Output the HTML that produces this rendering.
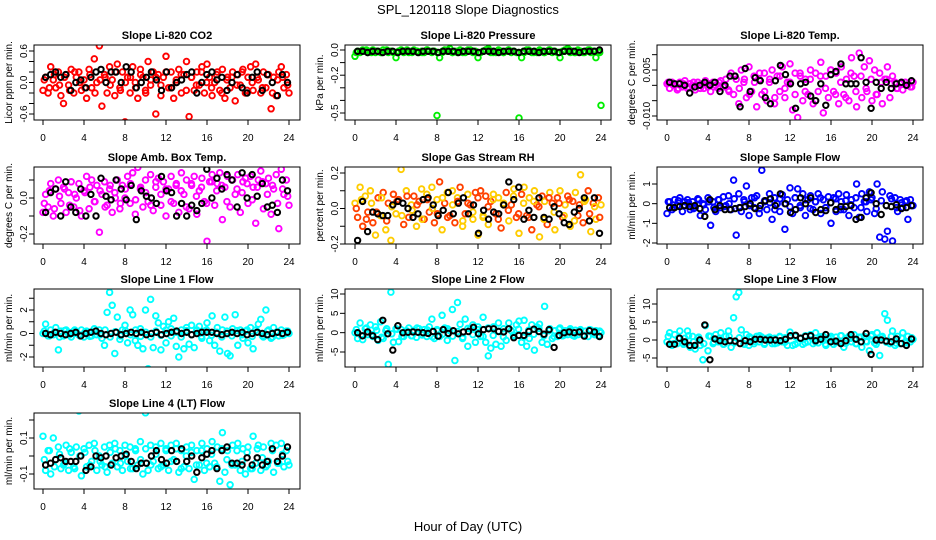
<!DOCTYPE html>
<html>
<head>
<meta charset="utf-8">
<style>
html,body{margin:0;padding:0;background:#fff;}
svg{display:block;font-family:"Liberation Sans",Arial,sans-serif;}
</style>
</head>
<body>
<svg id="chart" width="936" height="540" viewBox="0 0 936 540" xmlns="http://www.w3.org/2000/svg">
  <rect x="0" y="0" width="936" height="540" fill="#fff"/>
  <text x="468" y="14" font-size="13" text-anchor="middle">SPL_120118  Slope Diagnostics</text>
  <text x="468" y="531" font-size="13" text-anchor="middle">Hour of Day (UTC)</text>
</svg>
<script>
// ---- data (colored = samples every 0.25 h, second colored set every 0.5 h, black = every 0.5 h) ----
const xTickLabels = [0,4,8,12,16,20,24];

const co2Vals = [-0.15,0.1,-0.2,0.3,0.05,-0.1,0.2,-0.25, -0.4,0.15,-0.05,0.25,-0.2,0.1,0.2,-0.15, 0.05,-0.3,0.25,-0.1,0.45,0.0,0.7,-0.45, 0.15,-0.2,0.3,0.05,-0.25,0.35,-0.1,0.2, -0.75,0.1,-0.2,0.3,0.0,-0.3,0.25,0.1, -0.15,0.4,-0.05,0.2,-0.6,0.15,-0.25,0.1, 0.5,-0.1,0.2,-0.3,0.05,0.25,-0.2,0.15, 0.4,-0.65,0.1,-0.15,0.2,-0.05,0.3,-0.2, 0.35,0.1,-0.25,0.0,0.2,-0.15,0.25,-0.3, 0.1,-0.1,0.2,-0.35,0.15,-0.05,0.25,-0.2, 0.1,0.3,-0.15,0.35,0.05,-0.2,0.2,-0.1, 0.15,-0.5,0.1,-0.25,0.2,0.3,-0.1,0.15, -0.2];
const co2ValsB = [0.05,-0.1,0.15,-0.05,0.1,-0.15,0.2,0.0,-0.1,0.15,-0.2,0.05,0.1,-0.05,0.2,-0.15,0.0,0.1,-0.1,0.15,-0.2,0.05,0.1,-0.05,0.2,-0.1,0.0,0.15,-0.15,0.1,-0.05,0.2,0.0,-0.1,0.15,-0.2,0.05,0.1,-0.05,0.2,-0.15,0.0,0.1,-0.1,0.15,-0.2,0.05,0.1,-0.05];
const co2Black = [0.1,0.15,0.2,0.1,0.15,-0.15,0.0,0.05,-0.1,0.1,0.2,0.25,0.0,0.2,0.2,0.0,0.3,0.2,-0.1,0.0,0.1,0.2,0.05,-0.15,0.2,-0.1,0.0,0.05,0.15,0.2,-0.2,0.0,0.15,0.2,0.05,0.1,-0.15,0.0,0.15,-0.1,-0.2,0.1,0.2,-0.15,0.15,0.0,-0.25,0.15,0.0];

const presVals = [-0.05,-0.01,-0.02,0,-0.01,-0.02,-0.01,0, -0.02,-0.01,-0.02,0,-0.01,-0.02,-0.01,-0.02, -0.06,-0.01,0,-0.02,-0.01,-0.02,-0.01,0, -0.01,-0.02,-0.01,-0.02,0,-0.01,-0.02,-0.01, -0.52,-0.06,-0.02,0,-0.01,0.01,-0.02,-0.01, -0.02,0,-0.01,-0.02,-0.01,0,-0.02,-0.01, -0.06,-0.02,-0.01,0,0.01,-0.02,-0.01,-0.02, 0,-0.01,-0.02,-0.01,0,-0.02,-0.01,-0.02, -0.54,-0.06,-0.02,0,-0.01,-0.02,-0.01,-0.02, 0,-0.01,-0.02,-0.01,0,-0.02,-0.01,-0.02, -0.06,-0.01,0,0.01,-0.02,-0.01,-0.02,0, -0.01,-0.02,-0.01,0,-0.02,-0.01,-0.06,-0.01, -0.44];
const presValsB = [-0.02,-0.01,0,-0.02,-0.01,-0.02,0,-0.01,-0.02,-0.01,0,-0.02,-0.01,-0.02,0,-0.01,-0.02,-0.01,0,-0.02,-0.01,-0.02,0,-0.01,-0.02,-0.01,0,-0.02,-0.01,-0.02,0,-0.01,-0.02,-0.01,0,-0.02,-0.01,-0.02,0,-0.01,-0.02,-0.01,0,-0.02,-0.01,-0.02,0,-0.01,-0.02];
const presBlack = [-0.01,-0.01,-0.02,-0.01,-0.01,-0.02,-0.01,-0.01,-0.02,-0.01,-0.01,-0.01,-0.02,-0.01,-0.01,-0.01,-0.02,-0.01,-0.01,-0.01,-0.02,-0.01,-0.01,-0.01,-0.02,-0.01,-0.01,-0.01,-0.02,-0.01,-0.01,-0.01,-0.02,-0.01,-0.01,-0.01,-0.02,-0.01,-0.01,-0.01,-0.02,-0.01,-0.01,-0.01,-0.02,-0.01,-0.01,-0.01,0];

const tempVals = [0.0005,-0.001,0.001,0,-0.0015,0.001,-0.0005,0.0015, -0.001,0.0005,0,-0.0015,0.001,-0.001,0.0005,0.0015, -0.0005,-0.002,0.001,0,-0.001,0.0015,-0.0005,0.002, -0.0015,0.004,-0.003,0.002,-0.006,0.005,0.001,-0.004, 0.006,-0.002,0.003,-0.007,0.002,-0.003,0.004,-0.005, 0.001,0.005,-0.006,0.003,-0.002,0.006,-0.004,0.001, 0.007,-0.008,0.004,-0.0105,0.003,-0.005,0.002,-0.003, 0.005,-0.006,0.004,-0.002,0.0075,-0.009,0.003,-0.004, 0.005,-0.002,0.004,-0.006,0.006,-0.003,0.002,-0.005, 0.009,0.003,-0.007,0.0105,-0.004,0.006,-0.002,0.008, -0.005,0.005,-0.003,0.004,-0.006,0.002,0.006,-0.004, 0.003,0.001,-0.001,0.0005,-0.0015,0.001,0,-0.0005, 0.001];
const tempValsB = [0.001,0,-0.001,0.0005,-0.0005,0.001,0,-0.001,0.0005,-0.0005,0.001,0,-0.002,0.003,-0.001,0.002,-0.003,0.001,0.004,-0.002,0.002,-0.004,0.003,-0.001,0.001,-0.003,0.004,-0.002,0.002,-0.005,0.003,-0.001,0.005,-0.003,0.001,-0.004,0.004,-0.002,0.003,-0.001,0.002,-0.003,0.001,0.002,0.0005,-0.001,0.001,0,-0.0005];
const tempBlack = [0.001,0.0005,0.0005,0,-0.0025,-0.0005,0,0.001,0,0.001,-0.002,0,0.003,0.003,-0.007,0.0055,-0.002,0.0025,0.0015,-0.004,-0.006,0.0015,0.0065,0.0035,0.0005,-0.0075,0.0005,0.001,-0.0035,-0.005,0.0005,-0.0065,0.0035,0.0045,0.007,0.0005,0.0005,0.0005,0.009,0.001,-0.0075,0.001,-0.001,0.001,-0.001,0.0005,0.001,0,0.0015];

const ambVals = [-0.08,0.02,-0.05,0.08,-0.1,0.05,0.1,-0.03, 0.06,-0.08,0.03,0.09,-0.05,0.0,0.08,-0.1, 0.04,0.12,-0.06,0.1,-0.02,0.07,-0.19,0.02, 0.09,-0.04,0.05,-0.08,0.03,0.1,-0.06,0.07, 0.0,0.12,-0.03,0.14,-0.09,0.17,0.05,-0.05, 0.1,-0.02,0.13,-0.07,0.06,0.11,-0.04,0.09, -0.1,0.05,0.12,-0.03,0.08,-0.08,0.14,0.02, 0.1,-0.06,0.07,0.12,-0.09,0.04,0.11,-0.02, -0.24,0.09,0.13,-0.04,0.08,0.14,-0.12,0.06, 0.12,-0.05,0.1,0.02,0.13,-0.08,0.09,0.11, -0.03,0.12,0.06,-0.14,0.1,0.15,-0.06,0.08, 0.11,-0.09,0.05,0.13,-0.17,0.16,0.02,0.1, -0.04];
const ambValsB = [-0.03,0.04,-0.06,0.01,0.05,-0.04,0.02,-0.07,0.03,0.06,-0.02,0.04,-0.05,0.07,0.0,-0.03,0.05,0.08,-0.01,0.06,0.03,-0.04,0.09,0.02,0.05,-0.02,0.07,0.04,-0.05,0.08,0.01,0.06,-0.03,0.09,0.04,0.07,-0.02,0.1,0.05,0.03,0.08,-0.01,0.06,0.09,0.02,0.07,-0.03,0.05,0.01];
const ambBlack = [-0.08,0.03,0.05,-0.1,0.09,-0.05,-0.08,0.05,-0.1,0.02,-0.1,0.11,0.01,-0.01,0.1,0.05,-0.01,0.07,-0.12,0.04,0.01,0.0,-0.03,0.12,0.04,0.03,-0.1,-0.03,-0.1,-0.04,-0.07,-0.03,0.16,0.0,0.11,0.05,0.13,0.1,-0.05,0.14,0.0,0.13,0.01,0.08,-0.05,-0.04,-0.08,0.1,0.04];

const rhVals = [0.03,-0.05,0.12,-0.1,0.07,-0.02,0.1,-0.08, -0.15,0.06,-0.04,0.09,-0.12,0.03,-0.18,0.08, -0.03,0.05,0.22,-0.09,0.1,-0.05,0.02,0.07, -0.1,0.04,0.11,-0.06,0.08,-0.02,0.12,-0.08, 0.05,0.15,-0.12,0.03,0.09,-0.04,0.1,-0.08, 0.06,0.12,-0.1,-0.03,0.08,0.02,-0.06,0.09, -0.15,0.1,-0.05,0.07,-0.09,0.04,0.08,-0.03, 0.06,-0.11,0.03,0.09,-0.07,0.02,0.11,-0.05, -0.14,0.08,0.12,-0.04,0.06,-0.12,0.1,0.02, -0.16,0.07,0.04,-0.09,0.09,0.03,-0.12,0.06, 0.1,-0.05,0.02,0.07,-0.1,0.04,0.09,-0.04, 0.19,-0.08,0.05,0.1,-0.13,0.03,-0.06,0.06, 0.02];
const rhValsB = [0.0,0.05,-0.06,0.03,-0.02,0.06,-0.07,0.01,0.04,-0.04,0.07,-0.01,0.02,-0.06,0.05,0.0,-0.03,0.06,-0.05,0.02,0.04,-0.07,0.03,-0.02,0.06,-0.04,0.01,0.05,-0.06,0.02,-0.01,0.07,-0.03,0.03,-0.05,0.04,0.01,-0.06,0.06,-0.02,0.03,-0.04,0.05,-0.07,0.02,0.04,-0.03,0.01,-0.05];
const rhBlack = [-0.18,0.04,-0.13,-0.02,-0.03,-0.04,-0.04,0.02,0.04,0.03,0.0,-0.05,-0.03,0.05,0.06,0.02,-0.04,-0.01,0.09,-0.03,0.03,0.06,-0.03,0.02,-0.14,-0.01,-0.06,-0.02,-0.03,0.02,0.15,0.05,0.12,-0.06,-0.01,-0.05,0.06,-0.05,-0.06,0.01,-0.03,-0.08,-0.09,-0.02,0.0,0.06,-0.07,0.06,-0.14];

const flowVals = [-0.5,0.1,-0.3,0.2,-0.1,0.3,-0.4,0.1, 0.2,-0.3,0.1,-0.2,0.25,-0.6,0.0,-0.3, 0.3,-1.1,0.1,-0.4,0.2,-0.2,0.35,-0.1, 0.4,-0.3,1.2,-1.6,0.5,-0.4,0.2,0.9, -0.6,0.3,-0.2,0.4,-0.5,1.7,0.1,-0.3, 0.5,-0.8,0.3,0.0,-0.4,0.45,-1.3,0.2, 0.8,-0.5,0.3,0.75,-0.2,0.5,-0.6,0.2, 0.4,-0.3,0.1,0.5,-0.5,0.2,-0.2,0.35, -1.0,0.3,-0.4,0.5,0.1,-0.3,0.45,-0.6, 0.2,-0.2,1.0,-0.7,0.5,0.1,-0.4,0.6, 0.3,-0.5,1.0,-1.7,0.6,-1.8,-1.4,0.4, -1.9,0.3,-0.4,0.2,-0.2,0.1,-0.8,0.2, -0.1];
const flowValsB = [0.1,-0.2,0.15,-0.1,0.05,-0.25,0.2,-0.05,0.1,-0.2,0.2,-0.15,0.0,0.25,-0.2,0.1,-0.1,0.3,-0.25,0.15,0.05,-0.3,0.25,0.0,-0.15,0.3,-0.1,0.2,-0.25,0.1,0.3,-0.2,0.05,0.25,-0.3,0.15,-0.05,0.3,-0.2,0.1,0.2,-0.25,0.15,-0.1,0.25,-0.2,0.05,0.15,-0.1];
const flowBlack = [-0.2,-0.2,-0.15,-0.1,-0.15,-0.1,-0.25,-0.65,0.2,-0.3,-0.1,-0.3,-0.3,-0.25,-0.2,-0.15,0.0,-0.25,-0.1,0.15,0.25,-0.1,0.5,0.0,-0.45,-0.3,0.3,0.0,0.3,-0.45,-0.3,-0.35,0.05,-0.3,-0.15,-0.15,-0.1,-0.8,-0.7,0.3,0.55,0.0,-0.55,-0.1,-0.15,-0.05,-0.25,-0.2,-0.1];

const line1Vals = [0,0.8,-0.2,0.3,-0.1,0.5,-1.4,0.2, -0.2,0.3,0.1,-0.3,0.2,0,-0.1,0.3, -0.3,0.2,0.1,-0.2,0.4,-0.1,0.3,-0.4, -1.0,1.8,3.5,2.4,-1.7,1.4,-0.5,0.3, 0.7,-0.8,2.0,1.6,-0.6,-1.0,0.4,-1.3, 2.0,-3.0,2.9,-1.2,1.5,0.9,-1.4,0.6, -0.8,1.0,0.4,1.3,-1.1,-2.0,0.3,-1.3, 0.5,-0.9,0.7,-1.2,0.3,0.6,-0.4,0.2, 0.9,-0.6,1.5,-1.0,0.5,-1.5,0.3,1.4, -1.7,-1.9,0.4,1.6,-1.0,0.3,-0.4,0.2, -0.8,0.5,-1.3,0.3,0.8,1.2,-0.3,2.0, 0.3,-0.4,0.5,0.1,-0.2,0.3,-0.1,0.2, 0];
const line1ValsB = [0.2,-0.2,0.1,-0.3,0.25,-0.1,0.3,-0.2,0.1,-0.25,0.2,-0.1,0.3,-0.3,0.15,-0.2,0.25,-0.1,0.3,-0.25,0.1,-0.3,0.2,-0.15,0.3,-0.2,0.1,-0.3,0.25,-0.1,0.2,-0.25,0.3,-0.15,0.1,-0.3,0.2,-0.2,0.25,-0.1,0.3,-0.25,0.15,-0.2,0.2,-0.3,0.1,-0.15,0.2];
const line1Black = [0,-0.1,0.1,0,-0.1,0,0.1,-0.2,0,0.1,0.2,0,-0.1,0,0.1,-0.1,0,0.1,0,0.1,-0.1,0,0.1,-0.1,0,0.1,0.2,0,0.1,-0.1,0,0.1,0.1,0.1,0,-0.1,0,0.1,0,0.1,-0.1,0,0.1,0,-0.1,0,0.1,0,0.1];

const line2Vals = [0,-1.5,2.5,-1.8,1.0,-0.5,2.0,-1.0, 1.5,-2.0,2.8,-1.5,0.5,-8.2,10.5,-2.5, 1.0,-2.3,0.8,-1.0,0.5,1.2,-0.8,0.6, -1.2,1.0,-0.5,0.8,-1.0,1.5,3.5,-1.5, 0.8,-1.0,4.5,1.2,-2.0,0.5,6.0,-7.2, 7.8,2.2,-1.5,3.5,-3.5,1.0,2.0,-2.5, 1.5,-1.0,4.0,-2.5,-6.0,-4.0,1.5,-3.0, 2.5,-3.5,1.0,-2.0,2.5,0.5,-1.0,2.0, 3.0,-2.5,3.2,-3.5,-1.5,2.0,-4.5,1.5, 2.2,-2.5,6.8,-3.0,1.0,-1.5,0.5,-1.0, 1.2,-0.8,0.5,-0.5,1.0,-0.7,0.6,-0.5, 0.8,-0.6,0.4,-1.0,0.7,-0.3,0.5,-0.8, 0];
const line2ValsB = [0.8,-0.8,1.2,-0.5,0.6,-1.2,1.0,-0.3,0.9,-1.0,0.4,-0.8,1.2,-0.6,0.7,-1.1,0.5,-0.4,1.0,-0.9,0.3,-1.2,1.1,-0.5,0.8,-1.0,1.2,-0.7,0.4,-1.1,1.0,-0.6,0.9,-1.2,0.6,-0.4,1.1,-0.8,0.5,-1.0,0.9,-0.6,0.7,-0.9,0.5,-0.7,0.8,-0.5,0.4];
const line2Black = [0,-0.8,0.2,-0.8,-1.8,3.2,-0.3,-4.5,1.8,0,0.1,0.2,0.1,0,-0.2,0.3,-0.9,0.8,-0.2,0.5,-0.3,0.2,0.3,1.4,-0.3,0.8,1.0,1.0,0.3,0.2,1.0,-1.3,-0.7,-0.7,0.3,0.9,0.3,-0.4,0.8,-3.8,-0.7,0,0.2,0,0.2,-0.9,0.5,0.2,-1.0];

const line3Vals = [-0.5,2.0,-1.5,1.5,-1.0,2.5,-0.8,0.5, 2.5,-2.0,1.0,-2.5,0.5,-1.5,-5.5,4.0, -3.0,1.0,-1.0,1.5,-0.5,2.0,-1.2,1.0, 2.5,-2.0,6.2,12.0,13.2,2.8,-1.0,1.5, -1.5,0.5,-1.0,1.0,-0.5,0.8,-1.2,0.5, 0.8,-1.0,0.5,-0.8,1.0,-0.5,0.6,-1.5, 2.2,-1.5,1.0,-0.8,0.5,-1.2,1.2,-0.5, 1.5,-1.0,2.0,-0.8,0.5,1.0,-1.5,0.5, 1.0,-1.2,0.8,-0.5,1.2,-2.0,0.5,1.0, -0.5,1.5,-1.0,0.8,-2.0,1.0,-0.5,-3.0, 1.5,-0.8,2.0,-4.3,1.0,7.3,5.5,-1.0, 2.5,-1.5,1.0,-1.0,2.0,-0.5,1.0,-0.5, 0.2];
const line3ValsB = [1.0,-1.0,0.5,-1.2,1.2,-0.5,0.8,-1.0,1.1,-0.6,0.4,-1.1,1.0,-0.8,0.6,-1.2,0.9,-0.4,1.2,-0.9,0.5,-1.0,0.8,-0.6,1.1,-1.2,0.4,-0.8,1.0,-0.5,0.9,-1.1,0.6,-0.7,1.2,-0.9,0.5,-1.0,0.8,-0.4,1.1,-1.2,0.7,-0.6,1.0,-0.9,0.5,-0.8,0.6];
const line3Black = [-1.2,-1.2,0.5,-0.5,-1.5,-1.5,0.0,4.2,-5.5,0.3,-0.2,-0.5,-0.2,-0.3,-1.0,-0.2,-0.5,0.2,0.2,0,0,0,-0.2,0.2,1.2,1.3,0.5,1.0,1.2,-0.2,0.2,1.5,-0.5,-0.3,-1.0,-0.2,1.5,0.2,-0.5,1.8,-4.0,0,0,-0.3,-0.5,0.3,-1.0,-1.5,0.3];

const line4Vals = [0.11,-0.08,0.03,-0.1,0.1,-0.02,0.05,-0.07, -0.05,0.06,-0.08,0.02,-0.06,0.05,0.25,-0.11, 0.04,-0.06,0.06,-0.03,0.07,-0.08,0.0,-0.05, 0.05,-0.09,0.06,-0.04,0.07,-0.06,0.03,-0.08, 0.06,-0.03,0.05,-0.07,0.04,-0.05,0.08,-0.1, 0.24,-0.08,0.06,-0.03,0.05,-0.07,0.07,-0.05, 0.04,-0.08,0.06,-0.02,0.07,-0.09,0.03,-0.06, 0.05,-0.07,0.06,-0.13,0.03,-0.05,0.07,-0.08, 0.04,-0.06,0.08,-0.04,0.05,-0.14,0.13,-0.09, 0.03,-0.16,0.06,-0.05,0.07,-0.08,0.04,-0.1, 0.05,-0.07,0.11,-0.04,0.06,-0.08,0.05,-0.06, -0.03,0.07,-0.09,0.06,-0.04,0.07,-0.06,0.03, -0.05];
const line4ValsB = [-0.02,0.03,-0.06,0.01,-0.04,0.04,-0.07,0.0,0.02,-0.05,0.03,-0.03,-0.06,0.02,0.04,-0.04,0.0,-0.07,0.03,-0.02,0.04,-0.05,0.01,-0.06,0.03,-0.03,0.04,-0.07,0.0,0.02,-0.05,0.03,-0.04,0.01,-0.06,0.04,-0.02,-0.05,0.03,-0.03,0.02,-0.07,0.04,-0.01,-0.05,0.03,-0.04,0.01,-0.03];
const line4Black = [-0.05,-0.04,-0.02,-0.01,-0.03,-0.03,-0.03,0.0,-0.08,-0.06,0.0,-0.01,0.0,-0.05,-0.01,0.0,0.01,-0.03,-0.07,-0.04,-0.04,0.0,0.03,-0.02,-0.04,0.03,-0.03,0.04,-0.03,0.0,-0.09,-0.01,0.01,0.03,-0.07,0.03,0.05,-0.04,-0.04,-0.05,-0.01,-0.05,-0.01,-0.05,-0.03,0.04,-0.03,0.0,0.05];

// ---- tick definitions per panel ----
const co2Ticks = [0.6,0.4,0.2,0,-0.2,-0.4,-0.6];      const co2Labels = ["0.6","","","0.0","","","-0.6"];
const presTicks = [0,-0.1,-0.2,-0.3,-0.4,-0.5];        const presLabels = ["0.0","","-0.2","","","-0.5"];
const tempTicks = [0.01,0.005,0,-0.005,-0.01];         const tempLabels = ["","0.005","","","-0.010"];
const ambTicks = [0.1,0,-0.1,-0.2];                    const ambLabels = ["","0.0","","-0.2"];
const rhTicks = [0.2,0.1,0,-0.1,-0.2];                 const rhLabels = ["0.2","","0.0","","-0.2"];
const flowTicks = [1,0,-1,-2];                         const flowLabels = ["1","0","-1","-2"];
const line1Ticks = [3,2,1,0,-1,-2];                    const line1Labels = ["","2","","0","","-2"];
const line2Ticks = [10,5,0,-5];                        const line2Labels = ["10","5","0","-5"];
const line3Ticks = [10,5,0,-5];                        const line3Labels = ["10","5","0","-5"];
const line4Ticks = [0.2,0.1,0,-0.1];                   const line4Labels = ["","0.1","","-0.1"];

// ---- layout ----
const colBox = [34,345,657];
const colX0 = [43,355,667];
const rowBox = [[45,120],[167,244],[289,367],[413,489]];
const boxW = 266;
const pxPerHour = 10.25;

const panels = [
 {key:"co2",title:"Slope Li-820 CO2",ylab:"Licor ppm per min.",c:0,r:0,vals:co2Vals,valsB:co2ValsB,blk:co2Black,ticks:co2Ticks,labels:co2Labels,ref:[0.6,51,-0.6,114],col:["#ff0000"]},
 {key:"pressure",title:"Slope Li-820 Pressure",ylab:"kPa per min.",c:1,r:0,vals:presVals,valsB:presValsB,blk:presBlack,ticks:presTicks,labels:presLabels,ref:[0,50,-0.5,113],col:["#00ee00"]},
 {key:"li820-temp",title:"Slope Li-820 Temp.",ylab:"degrees C per min.",c:2,r:0,vals:tempVals,valsB:tempValsB,blk:tempBlack,ticks:tempTicks,labels:tempLabels,ref:[0.005,70,-0.01,116],col:["#ff00ff"]},
 {key:"amb-box-temp",title:"Slope Amb. Box Temp.",ylab:"degrees C per min.",c:0,r:1,vals:ambVals,valsB:ambValsB,blk:ambBlack,ticks:ambTicks,labels:ambLabels,ref:[0,198,-0.2,234],col:["#ff00ff"]},
 {key:"gas-stream-rh",title:"Slope Gas Stream RH",ylab:"percent per min.",c:1,r:1,vals:rhVals,valsB:rhValsB,blk:rhBlack,ticks:rhTicks,labels:rhLabels,ref:[0.2,173,-0.2,244],col:["#ffcc00","#ff4000"]},
 {key:"sample-flow",title:"Slope Sample Flow",ylab:"ml/min per min.",c:2,r:1,vals:flowVals,valsB:flowValsB,blk:flowBlack,ticks:flowTicks,labels:flowLabels,ref:[1,184,-2,243],col:["#0000ff"]},
 {key:"line1-flow",title:"Slope Line 1 Flow",ylab:"ml/min per min.",c:0,r:2,vals:line1Vals,valsB:line1ValsB,blk:line1Black,ticks:line1Ticks,labels:line1Labels,ref:[2,310,-2,357],col:["#00ffff"]},
 {key:"line2-flow",title:"Slope Line 2 Flow",ylab:"ml/min per min.",c:1,r:2,vals:line2Vals,valsB:line2ValsB,blk:line2Black,ticks:line2Ticks,labels:line2Labels,ref:[10,294,-5,352],col:["#00ffff"]},
 {key:"line3-flow",title:"Slope Line 3 Flow",ylab:"ml/min per min.",c:2,r:2,vals:line3Vals,valsB:line3ValsB,blk:line3Black,ticks:line3Ticks,labels:line3Labels,ref:[10,304,-5,358],col:["#00ffff"]},
 {key:"line4-flow",title:"Slope Line 4 (LT) Flow",ylab:"ml/min per min.",c:0,r:3,vals:line4Vals,valsB:line4ValsB,blk:line4Black,ticks:line4Ticks,labels:line4Labels,ref:[0.1,438,-0.1,474],col:["#00ffff"]}
];

const NS = "http://www.w3.org/2000/svg";
const svg = document.getElementById("chart");
function mk(tag, attrs, parent){
  const e = document.createElementNS(NS, tag);
  for (const k in attrs) e.setAttribute(k, attrs[k]);
  parent.appendChild(e);
  return e;
}

panels.forEach(function(p){
  const bx = colBox[p.c], by = rowBox[p.r][0], bb = rowBox[p.r][1];
  const x0 = colX0[p.c];
  const xScale = function(h){ return x0 + h*pxPerHour; };
  const k = (p.ref[3]-p.ref[1])/(p.ref[2]-p.ref[0]);
  const yScale = function(v){ return p.ref[1] + (v - p.ref[0])*k; };

  const g = mk("g", {}, svg);
  
  

  const clip = mk("clipPath", {id:"clip-"+p.key}, g);
  mk("rect", {x:bx, y:by, width:boxW, height:bb-by}, clip);

  const title = mk("text", {x:bx+boxW/2, y:by-6, "font-size":"11", "font-weight":"bold", "text-anchor":"middle"}, g);
  title.textContent = p.title;
  
  

  const yl = mk("text", {x:0, y:0, "font-size":"10", "text-anchor":"middle", transform:"translate("+(bx-22)+","+((by+bb)/2)+") rotate(-90)"}, g);
  yl.textContent = p.ylab;
  
  

  const pts = mk("g", {"clip-path":"url(#clip-"+p.key+")", fill:"none", "stroke-width":"1.9"}, g);
  
  
  const n = p.vals.length;
  p.vals.forEach(function(v, i){
    const h = i*24/(n-1);
    const c = mk("circle", {cx:xScale(h).toFixed(1), cy:yScale(v).toFixed(1), r:"2.8", stroke:p.col[i % p.col.length]}, pts);
    
    
  });
  const nB = p.valsB.length;
  p.valsB.forEach(function(v, i){
    const h = 0.125 + i*23.75/(nB-1);
    const c = mk("circle", {cx:xScale(h).toFixed(1), cy:yScale(v).toFixed(1), r:"2.8", stroke:p.col[(i+1) % p.col.length]}, pts);
    
    
  });
  const nb = p.blk.length;
  p.blk.forEach(function(v, i){
    const h = 0.25 + i*23.6/(nb-1);
    const c = mk("circle", {cx:xScale(h).toFixed(1), cy:yScale(v).toFixed(1), r:"2.7", stroke:"#000", "stroke-width":"2"}, pts);
    
    
  });

  const box = mk("rect", {x:bx, y:by, width:boxW, height:bb-by, fill:"none", stroke:"#000", "stroke-width":"1"}, g);
  
  

  xTickLabels.forEach(function(t){
    const x = xScale(t);
    const tk = mk("line", {x1:x, y1:bb, x2:x, y2:bb+5, stroke:"#000"}, g);
    
    
    const tl = mk("text", {x:x, y:bb+21, "font-size":"10", "text-anchor":"middle"}, g);
    tl.textContent = String(t);
    
    
  });

  p.ticks.forEach(function(t, i){
    const y = yScale(t);
    const tk = mk("line", {x1:bx-5, y1:y, x2:bx, y2:y, stroke:"#000"}, g);
    
    
    if (p.labels[i]) {
      const tl = mk("text", {x:0, y:0, "font-size":"10", "text-anchor":"middle", transform:"translate("+(bx-7)+","+y.toFixed(1)+") rotate(-90)"}, g);
      tl.textContent = p.labels[i];
      
      
    }
  });
});
</script>
</body>
</html>
